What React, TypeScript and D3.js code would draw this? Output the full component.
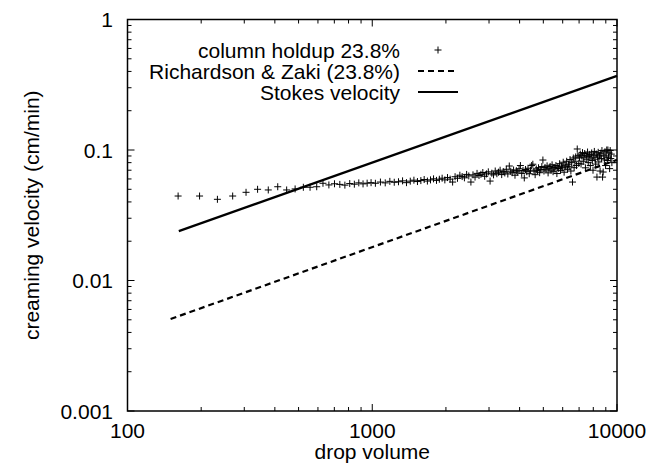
import React from "react";
import * as d3 from "d3";

// ---- data ----
const xTickValues = [100, 1000, 10000];
const xTickLabels = ["100", "1000", "10000"];
const yTickValues = [0.001, 0.01, 0.1, 1];
const yTickLabels = ["0.001", "0.01", "0.1", "1"];

const legendLabels = ["column holdup 23.8%", "Richardson & Zaki (23.8%)", "Stokes velocity"];

// Stokes velocity line (straight on log-log axes), endpoints
const stokesVolume = [162, 10000];
const stokesVelocity = [0.0239, 0.37];

// Richardson & Zaki line, endpoints
const rzVolume = [150, 10000];
const rzVelocity = [0.00507, 0.084];

// measured creaming velocity, [drop volume, velocity]
const holdupPoints: [number, number][] = [
  [161, 0.0444], [197, 0.0444], [233, 0.0419], [269, 0.0444], [305, 0.0474], [340, 0.05],
  [376, 0.0494], [411, 0.0523], [447, 0.0494], [484, 0.0503], [523, 0.0518], [557, 0.0518],
  [593, 0.0523],
  [629, 0.0556], [665, 0.054], [701, 0.0551], [737, 0.0545], [773, 0.0538], [809, 0.0553],
  [845, 0.0547], [881, 0.056], [917, 0.055], [953, 0.0557], [989, 0.0562],
  [1030, 0.0556], [1080, 0.0568], [1130, 0.056], [1180, 0.0575], [1230, 0.0566], [1280, 0.0571],
  [1330, 0.058], [1380, 0.0562], [1430, 0.0577], [1480, 0.0587], [1530, 0.0573], [1580, 0.0583],
  [1630, 0.0594], [1680, 0.0578], [1730, 0.059], [1780, 0.0601], [1830, 0.0585], [1880, 0.0597],
  [1930, 0.0608], [1980, 0.059],
  [2030, 0.0615], [2080, 0.0598], [2130, 0.0568], [2180, 0.0624], [2230, 0.0607], [2280, 0.0641],
  [2330, 0.0626], [2380, 0.0612], [2430, 0.065], [2480, 0.0633], [2530, 0.0568], [2580, 0.0645],
  [2630, 0.062], [2680, 0.0662], [2730, 0.0638], [2780, 0.0651], [2830, 0.0672], [2880, 0.0629],
  [2930, 0.0656], [2980, 0.068], [3030, 0.0578], [3080, 0.0664], [3130, 0.0645], [3180, 0.069],
  [3230, 0.0658], [3280, 0.0676], [3330, 0.07], [3380, 0.0648], [3430, 0.0683], [3480, 0.0667],
  [3530, 0.0712], [3580, 0.0655], [3630, 0.0754], [3680, 0.0688], [3730, 0.067], [3780, 0.0703],
  [3830, 0.0641], [3880, 0.0694], [3930, 0.0678], [3980, 0.0718], [4030, 0.076], [4080, 0.0662],
  [4130, 0.0697], [4180, 0.0611], [4230, 0.0709], [4280, 0.0682], [4330, 0.0725], [4380, 0.0658],
  [4430, 0.07], [4480, 0.076], [4530, 0.0778], [4580, 0.0688], [4630, 0.0647], [4680, 0.0715],
  [4730, 0.0694], [4780, 0.0731], [4830, 0.067], [4880, 0.0708], [4930, 0.0746], [4980, 0.0838],
  [5030, 0.069], [5080, 0.0735], [5130, 0.0712], [5180, 0.0756], [5230, 0.0668], [5280, 0.0724],
  [5330, 0.0748], [5380, 0.07], [5430, 0.077], [5480, 0.0682], [5530, 0.0735], [5580, 0.0715],
  [5630, 0.076], [5680, 0.066], [5730, 0.0742], [5780, 0.0722], [5830, 0.0785], [5880, 0.0698],
  [5930, 0.0752], [5980, 0.073], [6030, 0.0806], [6080, 0.0676], [6130, 0.0765], [6180, 0.074],
  [6230, 0.082], [6280, 0.0712], [6330, 0.0778], [6380, 0.075], [6430, 0.0845], [6480, 0.069],
  [6530, 0.08], [6580, 0.0568], [6630, 0.0868], [6680, 0.0732], [6730, 0.082], [6780, 0.0885],
  [6830, 0.076], [6880, 0.1018], [6930, 0.0905], [6980, 0.079],
  [7030, 0.087], [7080, 0.093], [7130, 0.078], [7180, 0.09], [7230, 0.0955], [7280, 0.082],
  [7330, 0.088], [7380, 0.094], [7430, 0.073], [7480, 0.091], [7530, 0.085], [7580, 0.0965],
  [7630, 0.08], [7680, 0.089], [7730, 0.0925], [7780, 0.076], [7830, 0.087], [7880, 0.095],
  [7930, 0.083], [7980, 0.07], [8030, 0.0905], [8080, 0.0975], [8130, 0.085], [8180, 0.078],
  [8230, 0.093], [8280, 0.062], [8330, 0.088], [8380, 0.096], [8430, 0.081], [8480, 0.09],
  [8530, 0.069], [8580, 0.0945], [8630, 0.086], [8680, 0.099], [8730, 0.062], [8780, 0.0678],
  [8830, 0.0915], [8880, 0.084], [8930, 0.097], [8980, 0.076], [9030, 0.09], [9080, 0.1],
  [9130, 0.083], [9180, 0.1], [9230, 0.088], [9280, 0.095], [9330, 0.072], [9380, 0.099],
  [9430, 0.086], [9480, 0.093], [9530, 0.08],
];

// ---- layout ----
const W = 649;
const H = 464;
const left = 127.5;
const right = 617;
const top = 19.5;
const bottom = 411;
const font = "'Liberation Sans', Arial, Helvetica, sans-serif";
const fs = 21;

export default function App() {
  const x = d3.scaleLog().domain([100, 10000]).range([left, right]);
  const y = d3.scaleLog().domain([0.001, 1]).range([bottom, top]);

  const xMinor: number[] = [];
  [100, 1000].forEach((d) => {
    for (let k = 2; k <= 9; k++) xMinor.push(d * k);
  });
  const yMinor: number[] = [];
  [0.001, 0.01, 0.1].forEach((d) => {
    for (let k = 2; k <= 9; k++) yMinor.push(d * k);
  });

  const majorLen = 7;
  const minorLen = 4;

  const line = d3
    .line<[number, number]>()
    .x((d) => x(d[0]))
    .y((d) => y(d[1]));

  const stokesData = stokesVolume.map((v, i) => [v, stokesVelocity[i]] as [number, number]);
  const rzData = rzVolume.map((v, i) => [v, rzVelocity[i]] as [number, number]);

  const plus = (cx: number, cy: number, s = 3.5) =>
    `M${cx - s},${cy}h${2 * s}M${cx},${cy - s}v${2 * s}`;

  const pointsPath = holdupPoints.map((p) => plus(x(p[0]), y(p[1]))).join("");

  const ticksPath: string[] = [];
  xTickValues.forEach((v) => {
    const px = x(v);
    ticksPath.push(`M${px},${bottom}v${-majorLen}M${px},${top}v${majorLen}`);
  });
  xMinor.forEach((v) => {
    const px = x(v);
    ticksPath.push(`M${px},${bottom}v${-minorLen}M${px},${top}v${minorLen}`);
  });
  yTickValues.forEach((v) => {
    const py = y(v);
    ticksPath.push(`M${left},${py}h${majorLen}M${right},${py}h${-majorLen}`);
  });
  yMinor.forEach((v) => {
    const py = y(v);
    ticksPath.push(`M${left},${py}h${minorLen}M${right},${py}h${-minorLen}`);
  });

  const legTextX = 400;
  const legLineX0 = 418;
  const legLineX1 = 458;
  const legRows = [50, 71, 92];

  return (
    <svg
      width={W}
      height={H}
      style={{ position: "absolute", left: 0, top: 0, background: "#fff" }}
      fontFamily={font}
    >
      <rect x={0} y={0} width={W} height={H} fill="#fff" />
      {/* ticks */}
      <path d={ticksPath.join("")} stroke="#000" strokeWidth={1} fill="none" />
      {/* frame */}
      <rect
        x={left}
        y={top}
        width={right - left}
        height={bottom - top}
        fill="none"
        stroke="#000"
        strokeWidth={1.5}
      />
      {/* tick labels */}
      {xTickValues.map((v, i) => (
        <text key={"xl" + i} x={x(v)} y={438} fontSize={fs} textAnchor="middle" fill="#000">
          {xTickLabels[i]}
        </text>
      ))}
      {yTickValues.map((v, i) => (
        <text
          key={"yl" + i}
          x={113}
          y={y(v) + 7.5}
          fontSize={fs}
          textAnchor="end"
          fill="#000"
        >
          {yTickLabels[i]}
        </text>
      ))}
      {/* axis titles */}
      <text x={(left + right) / 2} y={459} fontSize={fs} textAnchor="middle" fill="#000">
        drop volume
      </text>
      <text
        transform={`translate(39,${(top + bottom) / 2}) rotate(-90)`}
        fontSize={fs}
        textAnchor="middle"
        fill="#000"
      >
        creaming velocity (cm/min)
      </text>
      {/* series */}
      <path d={pointsPath} stroke="#000" strokeWidth={1} fill="none" />
      <path
        d={line(rzData) || ""}
        stroke="#000"
        strokeWidth={2.2}
        fill="none"
        strokeDasharray="6,4"
      />
      <path d={line(stokesData) || ""} stroke="#000" strokeWidth={2.2} fill="none" />
      {/* legend */}
      {legendLabels.map((t, i) => (
        <text
          key={"lg" + i}
          x={legTextX}
          y={legRows[i] + 7.5}
          fontSize={fs}
          textAnchor="end"
          fill="#000"
        >
          {t}
        </text>
      ))}
      <path d={plus((legLineX0 + legLineX1) / 2, legRows[0])} stroke="#000" strokeWidth={1} />
      <path
        d={`M${legLineX0},${legRows[1]}H${legLineX1}`}
        stroke="#000"
        strokeWidth={2.2}
        strokeDasharray="6,4"
      />
      <path d={`M${legLineX0},${legRows[2]}H${legLineX1}`} stroke="#000" strokeWidth={2.2} />
    </svg>
  );
}
